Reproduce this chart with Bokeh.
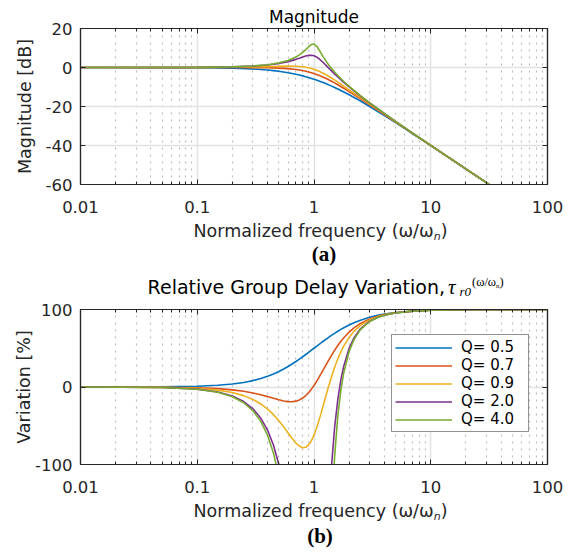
from bokeh.plotting import figure
from bokeh.models import (FixedTicker, LinearAxis, LogAxis, Legend, LegendItem,
                          Range1d, Div)
from bokeh.core.properties import value
from bokeh.layouts import column
from bokeh.embed import file_html
from bokeh.resources import INLINE

# ---------------- data ----------------
freq_mag = [0.01, 0.1, 0.2, 0.3, 0.4, 0.45, 0.5, 0.6, 0.7, 0.75, 0.8, 0.85, 0.9,
            0.95, 1.0, 1.05, 1.1, 1.2, 1.3, 1.4, 1.5, 1.6, 1.8, 2, 2.5, 3, 4, 5,
            7, 10, 20, 100]

mag_q05 = [0.0, -0.086, -0.341, -0.749, -1.289, -1.602, -1.938, -2.671, -3.464,
           -3.876, -4.297, -4.723, -5.154, -5.587, -6.021, -6.455, -6.888,
           -7.748, -8.595, -9.426, -10.238, -11.029, -12.547, -13.979, -17.207,
           -20.0, -24.609, -28.299, -33.979, -40.086, -52.063, -80.0]
mag_q07 = [0.0, -0.002, -0.014, -0.051, -0.137, -0.209, -0.305, -0.585, -1.004,
           -1.269, -1.571, -1.908, -2.277, -2.675, -3.098, -3.542, -4.003,
           -4.959, -5.938, -6.921, -7.892, -8.841, -10.656, -12.346, -16.055,
           -19.157, -24.110, -27.973, -33.809, -40.002, -52.04, -80.0]
mag_q09 = [0.0, 0.033, 0.128, 0.272, 0.443, 0.526, 0.599, 0.685, 0.630, 0.526,
           0.363, 0.137, -0.154, -0.507, -0.915, -1.372, -1.869, -2.948,
           -4.087, -5.239, -6.375, -7.477, -9.551, -11.442, -15.475, -18.757,
           -23.887, -27.831, -33.737, -39.967, -52.03, -80.0]
mag_q2 = [0.0, 0.076, 0.31, 0.70, 1.27, 1.633, 2.04, 3.01, 4.17, 4.788, 5.38,
          5.890, 6.22, 6.29, 6.02, 5.43, 4.60, 2.57, 0.46, -1.50, -3.274,
          -4.88, -7.65, -10.0, -14.64, -18.21, -23.60, -27.65, -33.65, -39.92,
          -52.02, -80.0]
mag_q4 = [0.0, 0.085, 0.34, 0.79, 1.45, 1.880, 2.38, 3.64, 5.37, 6.448, 7.71,
          9.131, 10.62, 11.81, 12.04, 11.00, 9.22, 5.47, 2.35, -0.19, -2.312,
          -4.14, -7.18, -9.66, -14.46, -18.10, -23.54, -27.62, -33.63, -39.92,
          -52.02, -80.0]

freq_gd = [0.01, 0.05, 0.1, 0.15, 0.2, 0.25, 0.3, 0.35, 0.4, 0.45, 0.5, 0.55,
           0.6, 0.65, 0.7, 0.75, 0.8, 0.85, 0.9, 0.95, 1.0, 1.05, 1.1, 1.15,
           1.2, 1.3, 1.4, 1.5, 1.6, 1.7, 1.8, 2, 2.2, 2.5, 3, 3.5, 4, 5, 7, 10,
           20, 100]

gd_q05 = [0.01, 0.25, 0.99, 2.20, 3.85, 5.88, 8.26, 10.91, 13.79, 16.84,
          20.0, 23.22, 26.47, 29.70, 32.89, 36.0, 39.02, 41.94, 44.75, 47.44,
          50.0, 52.44, 54.75, 56.94, 59.02, 62.83, 66.22, 69.23, 71.91, 74.29,
          76.42, 80.0, 82.88, 86.21, 90.0, 92.45, 94.12, 96.15, 98.0, 99.01,
          99.75, 99.99]
gd_q07 = [-0.01, -0.24, -0.95, -2.10, -3.66, -5.57, -7.73, -10.05, -12.39, -14.60,
          -16.53, -18.00, -18.85, -18.96, -18.24, -16.66, -14.23, -11.02, -7.15, -2.76,
          2.0, 6.99, 12.07, 17.14, 22.10, 31.47, 39.86, 47.19, 53.51, 58.92,
          63.54, 70.87, 76.28, 82.02, 87.86, 91.26, 93.40, 95.85, 97.92, 98.99,
          99.75, 99.99]
gd_q09 = [-0.02, -0.44, -1.77, -3.99, -7.11, -11.13, -16.05, -21.85, -28.44, -35.72,
          -43.49, -51.46, -59.24, -66.35, -72.25, -76.38, -78.31, -77.76, -74.69, -69.31,
          -62.0, -53.29, -43.70, -33.73, -23.77, -4.97, 11.41, 25.12, 36.36, 45.52,
          52.98, 64.13, 71.82, 79.45, 86.69, 90.65, 93.05, 95.72, 97.89, 98.98,
          99.75, 99.99]
gd_q2 = [-0.03, -0.69, -2.79, -6.39, -11.64, -18.78, -28.14, -40.20, -55.58, -75.13,
         -100.0, -131.7, -172.2, -223.9, -289.4, -370.6, -466.3, -568.6, -658.6, -709.1,
         -700.0, -634.8, -537.6, -434.4, -340.8, -199.4, -109.7, -52.94, -15.83, 9.42,
         27.24, 50.0, 63.40, 75.11, 84.91, 89.78, 92.58, 95.53, 97.84, 98.97,
         99.75, 99.99]
gd_q4 = [-0.03, -0.74, -2.99, -6.85, -12.54, -20.35, -30.74, -44.34, -62.10, -85.38,
         -116.2, -157.7, -214.7, -295.2, -412.5, -589.7, -867.0, -1310.0, -1987.0, -2786.0,
         -3100.0, -2548.0, -1746.0, -1144.0, -760.4, -362.4, -183.5, -90.83, -37.26, -3.66,
         18.78, 45.95, 61.19, 74.06, 84.51, 89.59, 92.48, 95.50, 97.83, 98.97,
         99.75, 99.99]

q_labels = ["Q= 0.5", "Q= 0.7", "Q= 0.9", "Q= 2.0", "Q= 4.0"]
x_major = [0.01, 0.1, 1, 10, 100]
x_labels = ["0.01", "0.1", "1", "10", "100"]
mag_ticks = [-60, -40, -20, 0, 20]
gd_ticks = [-100, 0, 100]

colors = ["#0072BD", "#D95319", "#EDB120", "#7E2F8E", "#77AC30"]

# ---------------- styling ----------------
SANS = "DejaVu Sans"
SERIF = "Liberation Serif"
AX = "#262626"
W = 579
FRAME_W = 467
x_minor = [k * 10.0 ** e for e in range(-2, 2) for k in range(2, 10)]


def make_panel(yr, yticks, frame_h, top, ylabel, ylabel_standoff):
    p = figure(x_axis_type="log", x_range=Range1d(0.01, 100),
               y_range=Range1d(*yr), frame_width=FRAME_W, frame_height=frame_h,
               min_border_left=80, min_border_right=W - 80 - FRAME_W,
               min_border_top=top, min_border_bottom=38, output_backend="svg",
               toolbar_location=None, background_fill_color="white",
               border_fill_color="white")
    p.outline_line_color = AX
    p.outline_line_width = 1.2
    xt = FixedTicker(ticks=x_major, minor_ticks=x_minor)
    yt = FixedTicker(ticks=yticks, minor_ticks=[])
    p.xaxis.ticker = xt
    p.yaxis.ticker = yt
    p.xaxis.major_label_overrides = {v: s for v, s in zip(x_major, x_labels)}
    p.yaxis.major_label_overrides = {v: str(v) for v in yticks}
    top_ax = LogAxis(ticker=xt)
    right_ax = LinearAxis(ticker=yt)
    for ax in (top_ax, right_ax):
        ax.major_label_overrides = {v: "" for v in ax.ticker.ticks}
        ax.major_label_text_font_size = "1px"
        ax.major_label_standoff = 0
    p.add_layout(top_ax, "above")
    p.add_layout(right_ax, "right")
    for ax in p.axis:
        ax.axis_line_color = AX
        ax.axis_line_width = 1.2
        ax.major_tick_line_color = AX
        ax.minor_tick_line_color = AX
        ax.major_tick_in = 5
        ax.major_tick_out = 0
        ax.minor_tick_in = 3
        ax.minor_tick_out = 0
        ax.major_tick_line_width = 1
        ax.minor_tick_line_width = 1
        ax.major_label_text_font = SANS
        ax.major_label_text_color = AX
    for ax in (p.below[0], p.left[0]):
        ax.major_label_text_font_size = "16.5px"
    p.below[0].major_label_standoff = 16
    p.left[0].major_label_standoff = 8
    p.left[0].axis_label = ylabel
    p.left[0].axis_label_text_font = SANS
    p.left[0].axis_label_text_font_size = "17.5px"
    p.left[0].axis_label_text_font_style = "normal"
    p.left[0].axis_label_text_color = AX
    p.left[0].axis_label_standoff = ylabel_standoff
    p.xgrid.grid_line_color = "#e2e2e2"
    p.xgrid.grid_line_width = 1.5
    p.xgrid.minor_grid_line_color = "#bdbdbd"
    p.xgrid.minor_grid_line_dash = "2 5"
    p.xgrid.minor_grid_line_width = 1.2
    p.ygrid.grid_line_color = "#e2e2e2"
    p.ygrid.grid_line_width = 1.5
    return p


def st(family, size, color="#000", extra=""):
    return f"style=\"font-family:'{family}';font-size:{size}px;fill:{color};{extra}\""


def svg_div(h, body):
    html = (f'<svg xmlns="http://www.w3.org/2000/svg" width="{W}" height="{h}" '
            f'style="display:block">{body}</svg>')
    return Div(text=html, width=W, height=h, margin=0)


def xlabel_svg(y):
    return (f'<text x="193.5" y="{y}" {st(SANS, 17.5, AX)}>'
            'Normalized frequency (\u03c9/\u03c9'
            f'<tspan dy="3" {st(SANS, 11, AX, "font-style:italic")}>n</tspan>'
            f'<tspan dy="-3" {st(SANS, 17.5, AX)}>)</tspan></text>')


# ---------------- panel (a) ----------------
p1 = make_panel((-60, 20), mag_ticks, 156, 28, "Magnitude [dB]", 8)
p1.title.text = "Magnitude"
p1.title.align = "center"
p1.title.text_font = SANS
p1.title.text_font_size = "17px"
p1.title.text_font_style = "normal"
p1.title.text_color = "#000000"
p1.title.standoff = 3
for ys, c in zip([mag_q05, mag_q07, mag_q09, mag_q2, mag_q4], colors):
    p1.line(freq_mag, ys, line_color=c, line_width=1.6)

# ---------------- middle texts ----------------
mid_body = (xlabel_svg(14.7)
            + f'<text x="324" y="39.2" text-anchor="middle" '
              f'{st(SERIF, 21, "#000", "font-weight:bold")}>(a)</text>'
            + f'<text x="445" y="72" text-anchor="end" {st(SANS, 19)}>'
              'Relative Group Delay Variation,</text>'
            + f'<text x="448" y="72" {st(SERIF, 21, "#000", "font-style:italic")}>\u03c4</text>'
            + f'<text x="459.5" y="73.5" {st(SERIF, 13, "#000", "font-style:italic")}>r0</text>'
            + f'<text x="472" y="64" {st(SERIF, 12.5)}>(\u03c9/\u03c9'
              f'<tspan dy="1.5" {st(SERIF, 7)}>n</tspan>'
              f'<tspan dy="-1.5" {st(SERIF, 12.5)}>)</tspan></text>')
div_mid = svg_div(77, mid_body)

# ---------------- panel (b) ----------------
p2 = make_panel((-100, 100), gd_ticks, 155, 10, "Variation [%]", -2)
renderers = []
for ys, c in zip([gd_q05, gd_q07, gd_q09, gd_q2, gd_q4], colors):
    renderers.append(p2.line(freq_gd, ys, line_color=c, line_width=1.6))

legend = Legend(items=[LegendItem(label=value(t), renderers=[r])
                       for t, r in zip(q_labels, renderers)],
                location=(311, 31.7))
legend.label_text_font = SANS
legend.label_text_font_size = "15px"
legend.label_text_color = "#000000"
legend.glyph_width = 57
legend.glyph_height = 17
legend.label_height = 17
legend.label_width = 64
legend.label_standoff = 9
legend.spacing = 0
legend.padding = 3
legend.margin = 0
legend.border_line_color = AX
legend.border_line_width = 1.2
legend.background_fill_color = "white"
legend.background_fill_alpha = 1.0
p2.add_layout(legend)

# ---------------- bottom texts ----------------
bot_body = (xlabel_svg(14.7)
            + f'<text x="320" y="40.9" text-anchor="middle" '
              f'{st(SERIF, 21, "#000", "font-weight:bold")}>(b)</text>')
div_bot = svg_div(55, bot_body)

layout = column(p1, div_mid, p2, div_bot, spacing=0)
open("out.html", "w").write(file_html(layout, INLINE))
